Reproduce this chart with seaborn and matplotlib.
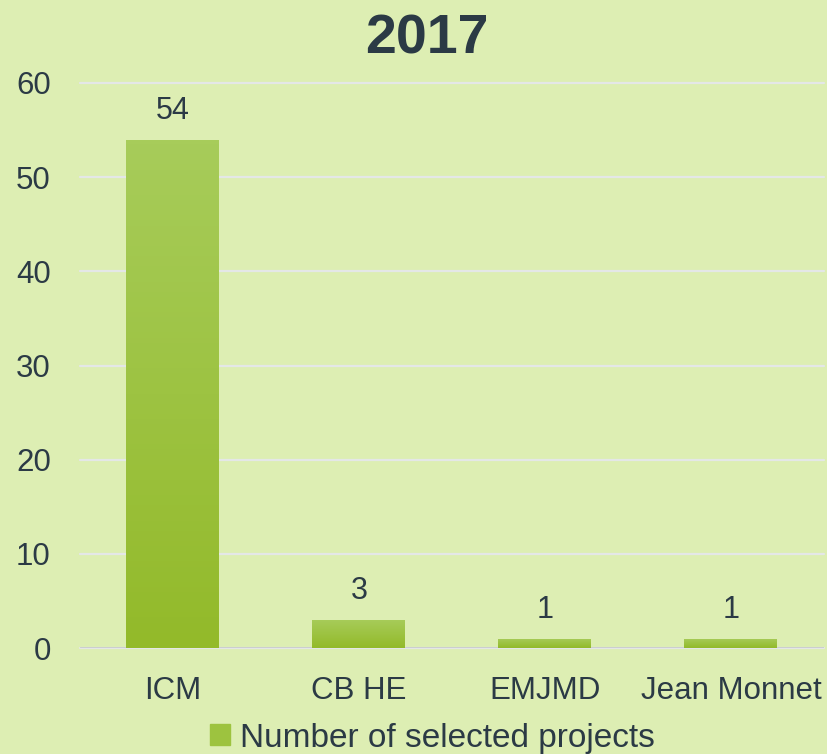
import matplotlib.pyplot as plt
import matplotlib.colors as mcolors
import numpy as np
import pandas as pd
import seaborn as sns

# data
categories = ['ICM', 'CB HE', 'EMJMD', 'Jean Monnet']
projects = [54, 3, 1, 1]
series_name = 'Number of selected projects'
title = '2017'

bg = '#ddeeb3'
txt = '#2b3a45'

sns.set_style("whitegrid")
plt.rcParams['font.family'] = ['Liberation Sans', 'DejaVu Sans']

df = pd.DataFrame({'category': categories, 'projects': projects})

fig = plt.figure(figsize=(8.28, 7.54), dpi=100, facecolor=bg)
ax = fig.add_axes([80 / 828, 106 / 754, 744 / 828, 565 / 754])
ax.set_facecolor(bg)

sns.barplot(data=df, x='category', y='projects', color='#9dc33f', width=0.5,
            saturation=1, ax=ax, zorder=3, linewidth=0, edgecolor='none')

# gradient fill on the bars
grad = mcolors.LinearSegmentedColormap.from_list('g', ['#93ba2a', '#a7cc5a'])
for p in ax.patches:
    x0, y0 = p.get_x(), p.get_y()
    w, h = p.get_width(), p.get_height()
    im = ax.imshow(np.linspace(0, 1, 100).reshape(-1, 1), cmap=grad, origin='lower',
                   extent=[x0, x0 + w, y0, y0 + h], aspect='auto', zorder=3.5)
    im.set_clip_path(p)
    ax.annotate(str(int(h)), (x0 + w / 2, h), xytext=(0, 10), textcoords='offset points',
                ha='center', va='bottom', fontsize=22, color=txt)

ax.set_xlim(-0.5, 3.5)
ax.set_ylim(0, 60)
ax.set_yticks(range(0, 61, 10))
ax.grid(axis='y', color='#e4e7e7', linewidth=1.6, zorder=0)
ax.grid(axis='x', visible=False)
for gl in ax.get_ygridlines():
    gl.set_clip_on(False)
ax.axhline(0, color='#c9cccc', linewidth=2, zorder=2)
for s in ax.spines.values():
    s.set_visible(False)
ax.tick_params(axis='y', length=0, pad=21, labelsize=22.5, labelcolor=txt)
ax.tick_params(axis='x', length=0, pad=20, labelsize=22.5, labelcolor=txt)
ax.set_xlabel('')
ax.set_ylabel('')

fig.text(427 / 828, 1 - 40 / 754, title, ha='center', va='center',
         fontsize=40, fontweight='bold', color=txt)

# legend
h = plt.Rectangle((0, 0), 1, 1, color='#9dc33f')
fig.legend([h], [series_name], loc='center', bbox_to_anchor=(432 / 828, 1 - 738 / 754),
           frameon=False, fontsize=24, labelcolor=txt, handlelength=0.6, handleheight=0.6,
           handletextpad=0.3, borderpad=0)

fig.savefig('out.png', dpi=100, facecolor=bg)
